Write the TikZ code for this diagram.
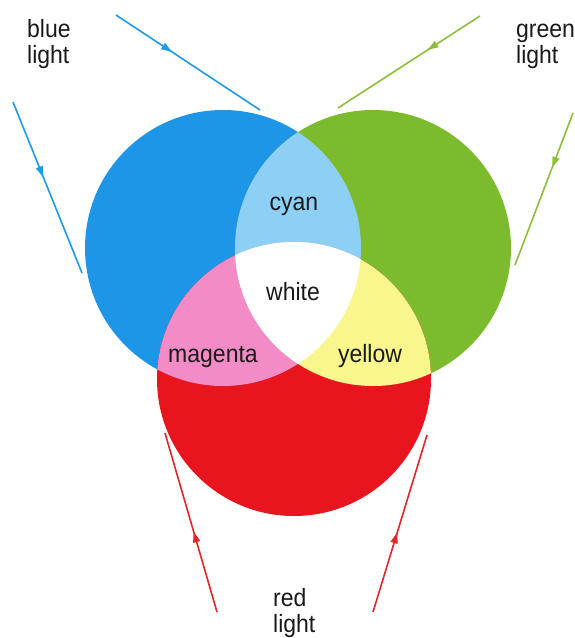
\documentclass[tikz,border=0pt]{standalone}
\usepackage{fontspec}
\setmainfont{Liberation Sans}[FakeStretch=0.92]
\usetikzlibrary{arrows.meta,decorations.markings}

\definecolor{lightblue}{HTML}{1E96E8}
\definecolor{lightgreen}{HTML}{7DBB2E}
\definecolor{lightred}{HTML}{E8141E}
\definecolor{mixcyan}{HTML}{8ECFF6}
\definecolor{mixmagenta}{HTML}{F28BC6}
\definecolor{mixyellow}{HTML}{F8F68C}
\definecolor{raygreen}{HTML}{8DBE3C}
\definecolor{rayblue}{HTML}{1E9BE2}
\definecolor{rayred}{HTML}{E2262C}
\definecolor{ink}{HTML}{1A1A1A}

\tikzset{
  lbl/.style={font=\fontsize{25}{26}\selectfont, text=ink, inner sep=0pt},
  ray/.style={line width=1.6pt, postaction={decorate},
    decoration={markings, mark=at position #1 with {\arrow{Triangle[length=11pt,width=7pt]}}}},
  ray/.default=0.4
}

\begin{document}
\begin{tikzpicture}[x=1pt,y=-1pt]
\useasboundingbox (0,0) rectangle (574,638);
\fill[white] (0,0) rectangle (574,638);

% circle centres
\coordinate (bc) at (223,248);
\coordinate (gc) at (373,248);
\coordinate (rc) at (294,379);
\def\rb{138}
\def\rg{138}
\def\rr{137}

% primary discs
\fill[lightblue] (bc) circle[radius=\rb];
\fill[lightgreen] (gc) circle[radius=\rg];
\fill[lightred] (rc) circle[radius=\rr];

% pairwise overlaps
\begin{scope}
  \clip (bc) circle[radius=\rb];
  \fill[mixcyan] (gc) circle[radius=\rg];
  \fill[mixmagenta] (rc) circle[radius=\rr];
\end{scope}
\begin{scope}
  \clip (gc) circle[radius=\rg];
  \fill[mixyellow] (rc) circle[radius=\rr];
\end{scope}
% triple overlap
\begin{scope}
  \clip (bc) circle[radius=\rb];
  \clip (gc) circle[radius=\rg];
  \fill[white] (rc) circle[radius=\rr];
\end{scope}

% region labels
\node[lbl, anchor=base] (cyan) at (294,210) {cyan};
\node[lbl, anchor=base] (white) at (293,300) {white};
\node[lbl, anchor=base] (magenta) at (213,362) {magenta};
\node[lbl, anchor=base] (yellow) at (370,362) {yellow};

% light source labels (anchored at the baseline of their last line)
\node[lbl, anchor=base west, align=left] (bluelbl) at (27,63) {blue\\light};
\node[lbl, anchor=base west, align=left] (greenlbl) at (516,63) {green\\light};
\node[lbl, anchor=base west, align=left] (redlbl) at (273,632) {red\\light};

% ray end points
\coordinate (b1s) at (116,15);  \coordinate (b1e) at (260,110);
\coordinate (b2s) at (13,102);  \coordinate (b2e) at (82,273);
\coordinate (g1s) at (480,16);  \coordinate (g1e) at (338,108);
\coordinate (g2s) at (573,113); \coordinate (g2e) at (515,265);
\coordinate (r1s) at (217,612); \coordinate (r1e) at (165,433);
\coordinate (r2s) at (373,612); \coordinate (r2e) at (427,435);

% rays
\draw[ray=0.39, rayblue] (b1s) -- (b1e);
\draw[ray=0.44, rayblue] (b2s) -- (b2e);
\draw[ray=0.37, raygreen] (g1s) -- (g1e);
\draw[ray=0.36, raygreen] (g2s) -- (g2e);
\draw[ray=0.45, rayred] (r1s) -- (r1e);
\draw[ray=0.45, rayred] (r2s) -- (r2e);
\end{tikzpicture}
\end{document}
